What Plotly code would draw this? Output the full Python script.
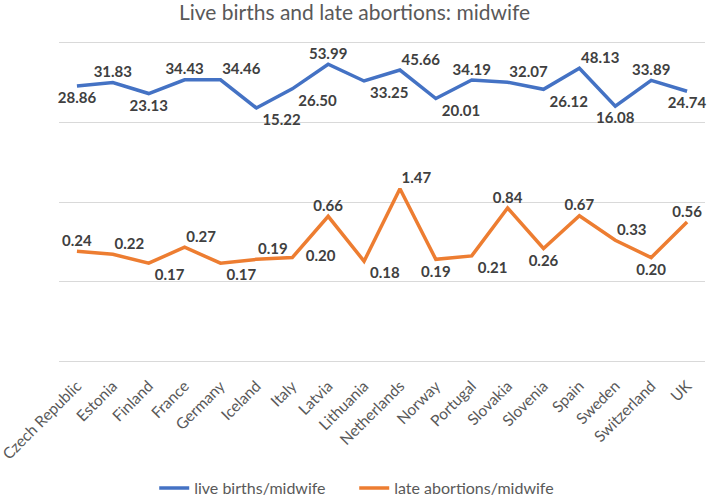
import plotly.graph_objects as go

countries = ["Czech Republic", "Estonia", "Finland", "France", "Germany", "Iceland",
             "Italy", "Latvia", "Lithuania", "Netherlands", "Norway", "Portugal",
             "Slovakia", "Slovenia", "Spain", "Sweden", "Switzerland", "UK"]
live_births = [28.86, 31.83, 23.13, 34.43, 34.46, 15.22, 26.50, 53.99, 33.25, 45.66,
               20.01, 34.19, 32.07, 26.12, 48.13, 16.08, 33.89, 24.74]
late_abortions = [0.24, 0.22, 0.17, 0.27, 0.17, 0.19, 0.20, 0.66, 0.18, 1.47,
                  0.19, 0.21, 0.84, 0.26, 0.67, 0.33, 0.20, 0.56]

lb_pos = ["bottom center", "top center", "bottom center", "top center", "top right",
          "bottom right", "bottom right", "top center", "bottom right", "top right",
          "bottom right", "top center", "top right", "bottom right", "top right",
          "bottom center", "top center", "bottom center"]
la_pos = ["top center", "top right", "bottom right", "top right", "bottom right",
          "top right", "middle right", "top center", "bottom right", "top right",
          "bottom center", "bottom right", "top center", "bottom center", "top center",
          "top right", "bottom center", "top center"]


def offsets(positions):
    # invisible marker sizes used only to space the data labels from the line
    out = []
    for p in positions:
        if p.startswith("top"):
            out.append(1)
        elif p.startswith("bottom"):
            out.append(8)
        else:
            out.append(20)
    return out


label_font = dict(family="Lato", size=15, color="#404040", weight="bold")

fig = go.Figure()
fig.add_trace(go.Scatter(
    x=countries, y=live_births, mode="lines+markers+text", name="live births/midwife",
    line=dict(color="#4472C4", width=3.5),
    marker=dict(size=offsets(lb_pos), color="rgba(0,0,0,0)",
                line=dict(width=0, color="rgba(0,0,0,0)")),
    text=[f"{v:.2f}" for v in live_births], textposition=lb_pos,
    textfont=label_font, cliponaxis=False))
fig.add_trace(go.Scatter(
    x=countries, y=late_abortions, mode="lines+markers+text", name="late abortions/midwife",
    line=dict(color="#ED7D31", width=3.5),
    marker=dict(size=offsets(la_pos), color="rgba(0,0,0,0)",
                line=dict(width=0, color="rgba(0,0,0,0)")),
    text=[f"{v:.2f}" for v in late_abortions], textposition=la_pos,
    textfont=label_font, cliponaxis=False))

fig.update_layout(
    width=709, height=497,
    margin=dict(l=59, r=4, t=39, b=132, autoexpand=False),
    paper_bgcolor="white", plot_bgcolor="white",
    title=dict(text="Live births and late abortions: midwife", x=0.5, xanchor="center",
               y=0.974, yanchor="middle",
               font=dict(family="Lato", size=21, color="#595959")),
    font=dict(family="Lato", color="#595959"),
    legend=dict(orientation="h", x=0.457, xanchor="center", y=-0.43, yanchor="bottom",
                entrywidth=155, font=dict(size=16, color="#595959")),
    showlegend=True,
)
fig.update_xaxes(showgrid=False, tickangle=-45, tickfont=dict(size=15.5, color="#595959"),
                 ticks="", showline=False, automargin=False, ticklabelstandoff=8,
                 range=[-0.5, len(countries) - 0.5])
fig.update_yaxes(type="log", range=[-2.05, 2.05], dtick=1, showticklabels=False,
                 gridcolor="#D9D9D9", gridwidth=1, zeroline=False, showline=False,
                 automargin=False)

fig.write_html("out.html", config={"displayModeBar": False},
               post_script="document.body.style.margin='0';")
